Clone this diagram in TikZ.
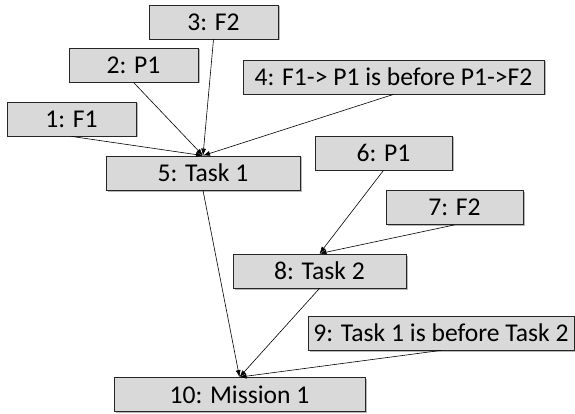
\documentclass[tikz,border=0pt]{standalone}
\usepackage{fontspec}
\setmainfont{Carlito}
\usepackage{tikz}
\usetikzlibrary{arrows.meta,shadows}
\definecolor{boxgray}{HTML}{D9D9D9}
\tikzstyle{stepnode}=[draw=black!85, line width=0.8pt, fill=boxgray, inner sep=0pt, minimum height=34pt, font=\fontsize{25.6}{30}\selectfont, drop shadow={shadow xshift=1.5pt, shadow yshift=-1.5pt, fill=black!35, opacity=0.8}]
\tikzstyle{link}=[draw=black, line width=0.6pt, -{Latex[length=7pt,width=5pt]}]

\begin{document}
\begin{tikzpicture}[x=1pt,y=-1pt]
	\useasboundingbox (0,0) rectangle (575,414);
	\node[stepnode, minimum width=129pt] (f1a) at (71.5,119) {1: F1};
	\node[stepnode, minimum width=129pt] (p1a) at (133.5,65) {2: P1};
	\node[stepnode, minimum width=129pt] (f2a) at (213.5,22) {3: F2};
	\node[stepnode, minimum width=301pt] (ordera) at (393.5,77) {4: F1-> P1 is before P1->F2};
	\node[stepnode, minimum width=194pt] (taska) at (203,173) {5: Task 1};
	\node[stepnode, minimum width=137pt] (p1b) at (383.5,153) {6: P1};
	\node[stepnode, minimum width=137pt] (f2b) at (454.5,207.5) {7: F2};
	\node[stepnode, minimum width=173pt] (taskb) at (319.5,271) {8: Task 2};
	\node[stepnode, minimum width=266pt] (orderb) at (441,333) {9: Task 1 is before Task 2};
	\node[stepnode, minimum width=251pt] (mission) at (239.5,394.5) {10: Mission 1};
	\draw[link] (f1a.south) -- (taska.north);
	\draw[link] (p1a.south) -- (taska.north);
	\draw[link] (f2a.south) -- (taska.north);
	\draw[link] (ordera.south) -- (taska.north);
	\draw[link] (p1b.south) -- (taskb.north);
	\draw[link] (f2b.south) -- (taskb.north);
	\draw[link] (taska.south) -- (mission.north);
	\draw[link] (taskb.south) -- (mission.north);
	\draw[link] (orderb.south) -- (mission.north);
\end{tikzpicture}
\end{document}
